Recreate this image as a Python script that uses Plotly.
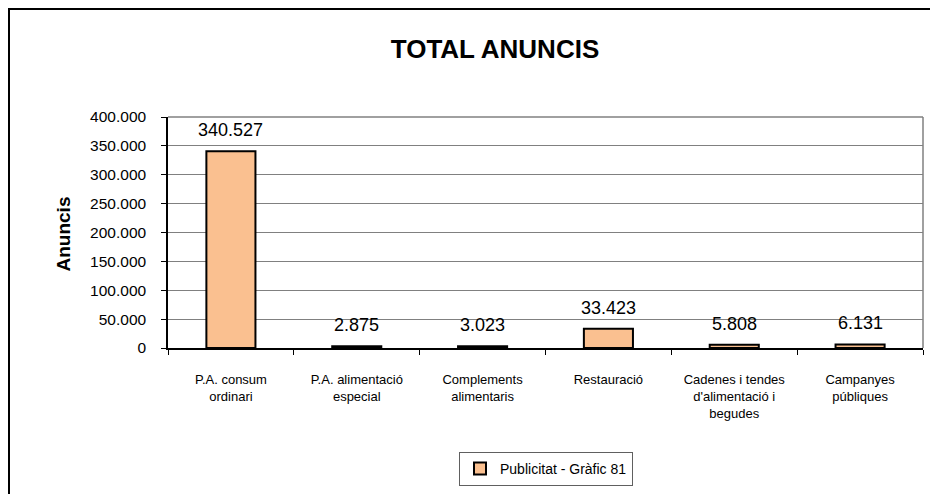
import plotly.graph_objects as go

categories = ["P.A. consum ordinari", "P.A. alimentació especial", "Complements alimentaris",
              "Restauració", "Cadenes i tendes d'alimentació i begudes", "Campanyes públiques"]
tick_labels = ["P.A. consum<br>ordinari", "P.A. alimentació<br>especial", "Complements<br>alimentaris",
               "Restauració", "Cadenes i tendes<br>d'alimentació i<br>begudes", "Campanyes<br>públiques"]
values = [340527, 2875, 3023, 33423, 5808, 6131]
series_name = "Publicitat - Gràfic 81"
y_ticks = [0, 50000, 100000, 150000, 200000, 250000, 300000, 350000, 400000]

W, H = 938, 494
OFF = 8  # page body margin: figure starts at (8, 8) on screen
# plot area in screen pixels (reference)
SL, SR, ST, SB = 168, 923, 117, 348
L, R, T, B = SL - OFF, SR - OFF, ST - OFF, SB - OFF


def px(x):  # screen x -> paper
    return (x - OFF - L) / (R - L)


def py(y):  # screen y -> paper
    return (B - (y - OFF)) / (B - T)


FONT = "Liberation Sans, Arial, sans-serif"

fig = go.Figure()
fig.add_trace(go.Bar(
    x=categories, y=values, name=series_name,
    marker=dict(color="#FAC090", line=dict(color="black", width=2)),
    width=0.39, showlegend=True,
))

annotations = []
for c, v in zip(categories, values):
    annotations.append(dict(
        x=c, y=v, xref="x", yref="y", text=f"{v:,}".replace(",", "."),
        showarrow=False, yanchor="middle", yshift=21,
        font=dict(family=FONT, size=18, color="black"),
    ))
annotations.append(dict(
    x=px(62.5), y=py(234), xref="paper", yref="paper", text="<b>Anuncis</b>",
    textangle=-90, showarrow=False, xanchor="center", yanchor="middle",
    font=dict(family=FONT, size=19, color="black"),
))

shapes = [
    # outer chart border
    dict(type="rect", xref="paper", yref="paper", x0=px(9), y0=py(9), x1=px(W + 30), y1=py(H + 30),
         line=dict(color="black", width=2), layer="below"),
    # plot area top/right border
    dict(type="line", xref="paper", yref="paper", x0=0, y0=1, x1=1, y1=1,
         line=dict(color="#808080", width=1.5), layer="below"),
    dict(type="line", xref="paper", yref="paper", x0=1, y0=0, x1=1, y1=1,
         line=dict(color="#808080", width=1.5), layer="below"),
]

fig.update_layout(
    width=W, height=H,
    margin=dict(l=L, r=W - R, t=T, b=H - B, pad=0),
    paper_bgcolor="white", plot_bgcolor="white",
    separators=",.",
    font=dict(family=FONT, color="black"),
    title=dict(text="<b>TOTAL ANUNCIS</b>", x=(495 - OFF) / W, y=1 - (49 - OFF) / H,
               xanchor="center", yanchor="middle",
               font=dict(family=FONT, size=26, color="black")),
    xaxis=dict(
        type="category", tickmode="array", tickvals=categories, ticktext=tick_labels,
        tickson="boundaries", ticks="outside", ticklen=5, tickcolor="black",
        showline=True, linecolor="black", linewidth=1.5, showgrid=False,
        tickfont=dict(family=FONT, size=13, color="black"), ticklabelstandoff=19,
        range=[-0.5, 5.5],
    ),
    yaxis=dict(
        range=[0, 400000], tickmode="array", tickvals=y_ticks, tickformat=",d",
        ticks="outside", ticklen=5, tickcolor="black",
        showline=True, linecolor="black", linewidth=1.5,
        showgrid=True, gridcolor="#808080", gridwidth=1, zeroline=False,
        tickfont=dict(family=FONT, size=15.5, color="black"), ticklabelstandoff=12,
    ),
    legend=dict(
        orientation="h", x=px(546), y=py(452), xanchor="center", yanchor="top",
        bordercolor="#606060", borderwidth=1, bgcolor="white",
        font=dict(family=FONT, size=14, color="black"),
    ),
    annotations=annotations,
    shapes=shapes,
)

fig.write_html("out.html")
